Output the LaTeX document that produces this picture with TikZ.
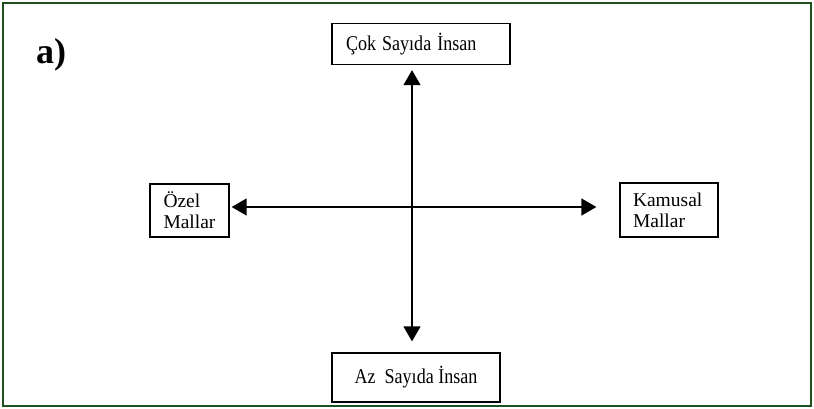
\documentclass[tikz,border=0pt]{standalone}
\usepackage{fontspec}
\setmainfont{Liberation Serif}
\usetikzlibrary{arrows.meta}

\definecolor{framegreen}{RGB}{30,80,30}
\newcommand{\narrowtext}[1]{\scalebox{0.86}[1]{#1}}

\begin{document}
\begin{tikzpicture}[x=1pt,y=-1pt,
    box/.style={draw, line width=1.3pt, inner sep=0pt, font=\fontsize{19.5}{21}\selectfont},
    wide box/.style={box, font=\fontsize{21}{24}\selectfont},
    axis/.style={line width=1.6pt, {Triangle[length=15pt,width=17pt]}-{Triangle[length=15pt,width=17pt]}}]
    % Outer frame
    \draw[framegreen, line width=2pt] (3,3) rectangle (811,406);
    \useasboundingbox (0,0) rectangle (814,408);

    % Panel label
    \node[anchor=base west, font=\fontsize{36}{36}\selectfont\bfseries, inner sep=0pt] (lbl) at (36,63) {a)};

    % Boxes
    \node[wide box, minimum width=178pt, minimum height=41pt, text width=150pt, align=left] (cok) at (421,44) {\narrowtext{Çok Sayıda İnsan}};
    \node[wide box, minimum width=168pt, minimum height=49pt, align=center] (az) at (416,377.5) {\narrowtext{Az\ \ Sayıda İnsan}};
    \node[box, minimum width=79pt, minimum height=53pt, text width=52pt, align=left] (ozel) at (189.5,210.5) {Özel\\Mallar};
    \node[box, minimum width=98pt, minimum height=54pt, text width=72pt, align=left] (kamu) at (669,210) {Kamusal\\Mallar};

    % Crossing arrows
    \coordinate (c) at (412,207);
    \draw[axis, shorten <=5pt, shorten >=11pt] (c |- cok.south) -- (c |- az.north);
    \draw[axis, shorten <=2pt, shorten >=23pt] (c -| ozel.east) -- (c -| kamu.west);
\end{tikzpicture}
\end{document}
